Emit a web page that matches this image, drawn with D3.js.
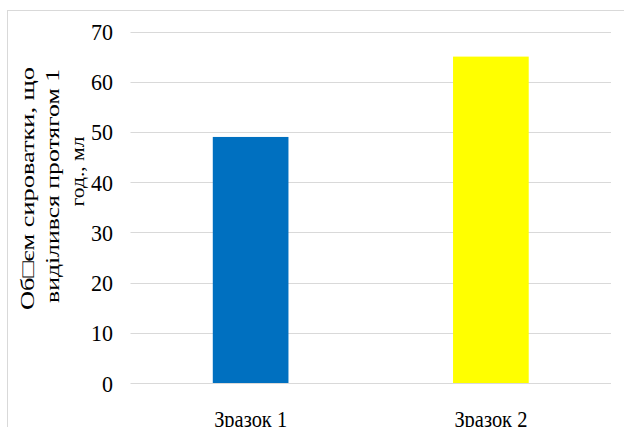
<!DOCTYPE html>
<html>
<head>
<meta charset="utf-8">
<script src="https://cdn.jsdelivr.net/npm/d3@7"></script>
<style>
  html, body { margin: 0; padding: 0; background: #fff; }
  svg { display: block; }
  svg text { font-family: "Times New Roman", "Liberation Serif", Tinos, "Noto Serif", "DejaVu Serif", serif; fill: #000; }
</style>
</head>
<body>
<svg id="chart" width="624" height="427"></svg>
<script>
const categories = ["Зразок 1", "Зразок 2"];
const values = [49, 65];
const yTicks = [0, 10, 20, 30, 40, 50, 60, 70];
const colors = ["#0070C0", "#FFFF00"];
const titleLines = ["Об\u25A1єм сироватки, що", "виділився протягом 1", "год., мл"];

const svg = d3.select("#chart");

svg.append("rect")
  .attr("x", 7.5).attr("y", 10.5)
  .attr("width", 640).attr("height", 440)
  .attr("fill", "#fff").attr("stroke", "#d9d9d9").attr("stroke-width", 1);

const x = d3.scaleBand().domain(categories).range([130.5, 611])
  .paddingInner(0.685).paddingOuter(0.3425);
const y = d3.scaleLinear().domain([0, 70]).range([383, 31.5]);

svg.append("g").selectAll("line").data(yTicks).join("line")
  .attr("x1", 130.5).attr("x2", 611)
  .attr("y1", d => Math.round(y(d)) + 0.5).attr("y2", d => Math.round(y(d)) + 0.5)
  .attr("stroke", "#d9d9d9").attr("stroke-width", 1);

const yAxis = d3.axisLeft(y).tickValues(yTicks).tickSize(0).tickPadding(0);
const gy = svg.append("g").attr("transform", "translate(113,0)").call(yAxis);
gy.select(".domain").remove();
gy.selectAll("text")
  .attr("font-size", 23)
  .attr("fill", "#000").attr("dy", "8")
  .attr("text-anchor", "start")
  .attr("x", d => -String(d).length * 11)
  .attr("textLength", d => String(d).length * 11)
  .attr("lengthAdjust", "spacingAndGlyphs");

svg.append("g").selectAll("rect").data(values).join("rect")
  .attr("x", (d, i) => x(categories[i]))
  .attr("width", x.bandwidth())
  .attr("y", d => y(d))
  .attr("height", d => y(0) - y(d))
  .attr("fill", (d, i) => colors[i]);

const xAxis = d3.axisBottom(x).tickSize(0).tickPadding(0);
const gx = svg.append("g").attr("transform", "translate(0,427)").call(xAxis);
gx.select(".domain").remove();
gx.selectAll("text")
  .attr("font-size", 23)
  .attr("fill", "#000").attr("y", 0).attr("dy", "0")
  .attr("text-anchor", "start")
  .attr("x", -36.5)
  .attr("textLength", 73)
  .attr("lengthAdjust", "spacingAndGlyphs");

const titleX = [34, 59, 84];
const titleY = [188.5, 186, 171.5];
const titleLen = [243, 234, 70];
svg.append("g").selectAll("text").data(titleLines).join("text")
  .attr("transform", (d, i) => `translate(${titleX[i]},${titleY[i]}) rotate(-90)`)
  .attr("text-anchor", "start")
  .attr("x", (d, i) => -titleLen[i] / 2)
  .attr("font-size", 19)
  .attr("textLength", (d, i) => titleLen[i])
  .attr("lengthAdjust", "spacingAndGlyphs")
  .text(d => d);
</script>
</body>
</html>
